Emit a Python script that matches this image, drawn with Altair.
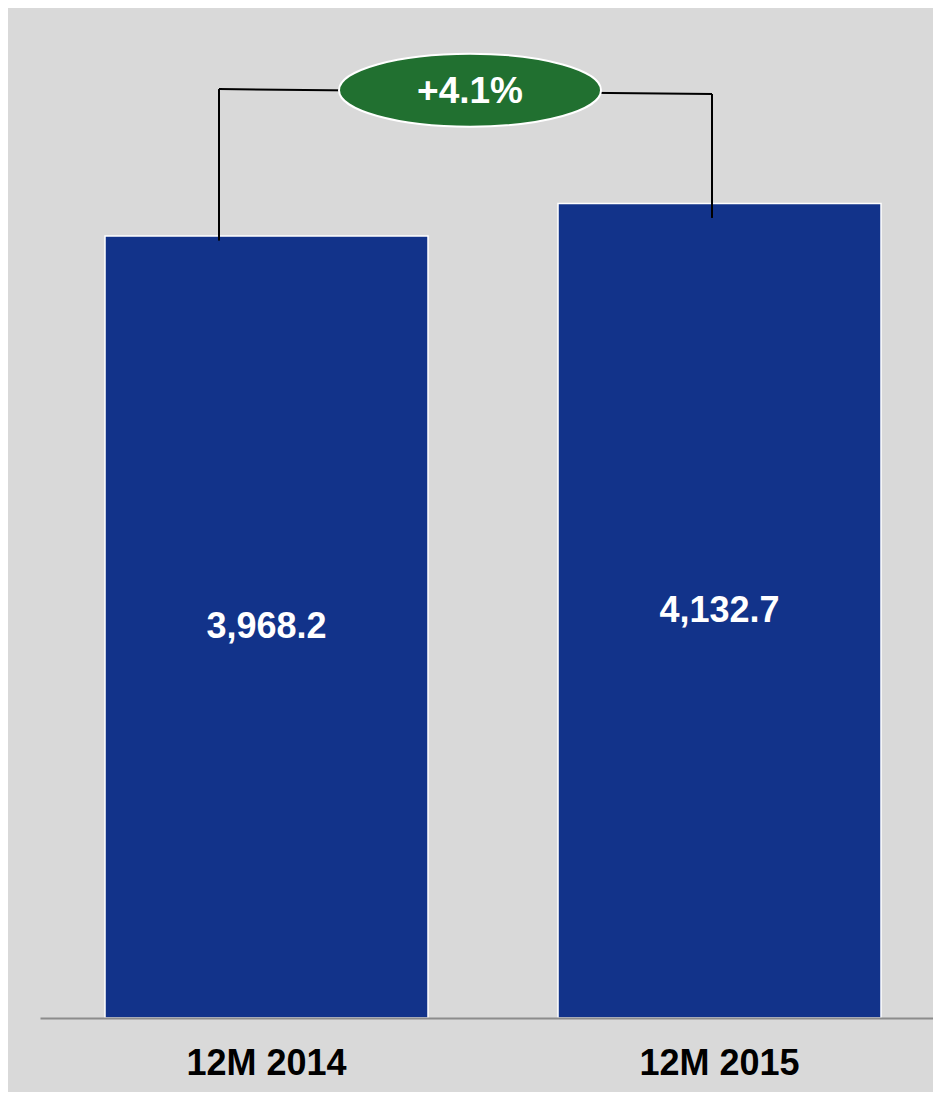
import altair as alt
import pandas as pd

categories = ["12M 2014", "12M 2015"]
values = [3968.2, 4132.7]
bar_labels = ["3,968.2", "4,132.7"]
bracket_top = [4714, 4689]
bracket_bottom = [3945, 4060]
growth_label = "+4.1%"
growth_level = 4708

FONT = "Liberation Sans"
BAR = "#12338a"
GREEN = "#217030"

bars_df = pd.DataFrame({"cat": categories, "value": values, "label": bar_labels,
                        "top": bracket_top, "bottom": bracket_bottom})
conn_df = pd.DataFrame({"from": [categories[0]], "to": [categories[1]],
                        "y1": [bracket_top[0]], "y2": [bracket_top[1]]})
growth_df = pd.DataFrame({"cat": [categories[0]], "level": [growth_level], "label": [growth_label]})

xscale = alt.Scale(domain=categories, paddingInner=0.28698, paddingOuter=0.12914, align=0.5556)
yscale = alt.Scale(domain=[0, 5125.3], nice=False, zero=True)

x_axis = alt.Axis(title=None, ticks=False, labelAngle=0, labelFont=FONT, labelFontSize=36,
                  labelFontWeight="bold", labelColor="#000000", labelPadding=28,
                  domainColor="#8c8c8c", domainWidth=2, zindex=1)

base = alt.Chart(bars_df)

bars = base.mark_bar(color=BAR, stroke="white", strokeWidth=1.5).encode(
    x=alt.X("cat:N", scale=xscale, axis=x_axis, sort=categories),
    y=alt.Y("value:Q", scale=yscale, axis=None),
)

labels = base.transform_calculate(mid="datum.value / 2").mark_text(
    font=FONT, fontSize=36, fontWeight="bold", color="white", baseline="middle", align="center"
).encode(
    x=alt.X("cat:N", sort=categories),
    y=alt.Y("mid:Q"),
    text="label:N",
)

left_v = base.transform_filter(alt.datum.cat == categories[0]).mark_rule(
    color="black", strokeWidth=2, xOffset=-47.5
).encode(x=alt.X("cat:N", sort=categories), y="top:Q", y2="bottom:Q")

right_v = base.transform_filter(alt.datum.cat == categories[1]).mark_rule(
    color="black", strokeWidth=2, xOffset=-7.5
).encode(x=alt.X("cat:N", sort=categories), y="top:Q", y2="bottom:Q")

connector = alt.Chart(conn_df).mark_rule(
    color="black", strokeWidth=2, xOffset=-47.5, x2Offset=-7.5
).encode(x=alt.X("from:N", sort=categories), x2="to:N", y="y1:Q", y2="y2:Q")

k = 0.5523
r = 73 / 262
ellipse_path = (
    f"M -1 0 C -1 {-k*r:.4f} {-k:.4f} {-r:.4f} 0 {-r:.4f} "
    f"C {k:.4f} {-r:.4f} 1 {-k*r:.4f} 1 0 "
    f"C 1 {k*r:.4f} {k:.4f} {r:.4f} 0 {r:.4f} "
    f"C {-k:.4f} {r:.4f} -1 {k*r:.4f} -1 0 Z"
)

ellipse = alt.Chart(growth_df).mark_point(
    shape=ellipse_path, size=262 * 262, filled=True, fill=GREEN, stroke="white",
    strokeWidth=2, opacity=1, xOffset=203.5
).encode(x=alt.X("cat:N", sort=categories), y="level:Q")

growth_text = alt.Chart(growth_df).mark_text(
    font=FONT, fontSize=37, fontWeight="bold", color="white", baseline="middle",
    align="center", xOffset=203.5, yOffset=2
).encode(x=alt.X("cat:N", sort=categories), y="level:Q", text="label:N")

chart = alt.layer(bars, labels, left_v, right_v, connector, ellipse, growth_text).properties(
    width=893, height=1010,
    autosize=alt.AutoSizeParams(type="none"),
    padding={"left": 32, "top": 0, "right": 0, "bottom": 74},
    background="#d9d9d9",
).configure_view(stroke=None)

chart.save("out.html", embed_options={"renderer": "svg", "actions": False})
